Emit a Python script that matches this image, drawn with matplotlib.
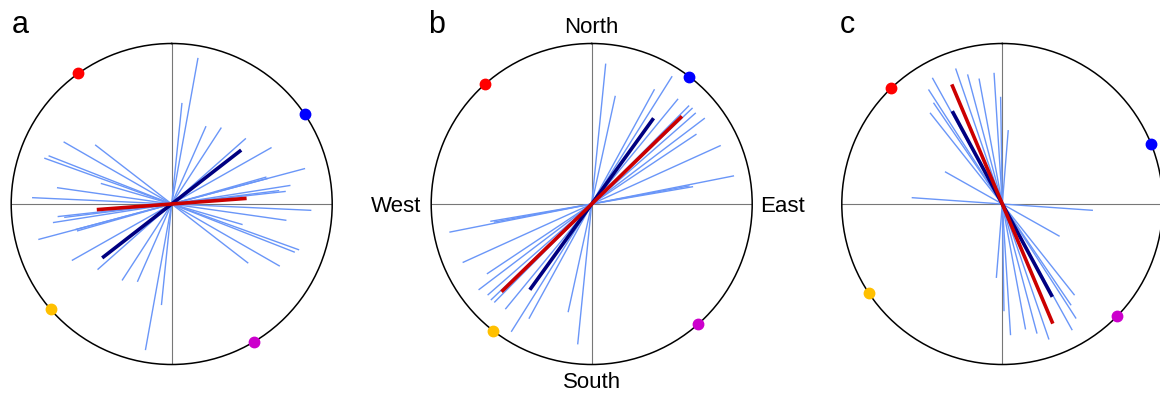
import matplotlib
matplotlib.use('Agg')
import matplotlib.pyplot as plt
import numpy as np

plt.rcParams['font.family'] = ['Liberation Sans', 'DejaVu Sans']

# ── Data: axial directions (azimuth, deg clockwise from north) and half-lengths ──
a_az  = [10.2, 5.8, 23.8, 33.0, 48.5, 60.5, 75.1, 74.1, 75.1, 81.1, 83.7, 82.9,
         92.6, 98.1, 106.2, 109.8, 111.4, 127.7, 119.9]
a_len = [0.925, 0.633, 0.530, 0.568, 0.617, 0.715, 0.860, 0.614, 0.622, 0.749, 0.715, 0.675,
         0.871, 0.722, 0.460, 0.844, 0.824, 0.603, 0.777]

b_az  = [5.7, 12.3, 28.7, 32.2, 39.4, 44.7, 46.4, 48.8, 52.8, 56.3, 65.6, 78.8, 80.3, 79.5]
b_len = [0.879, 0.690, 0.815, 0.941, 0.848, 0.863, 0.868, 0.862, 0.885, 0.785, 0.883, 0.904,
         0.641, 0.620]

c_az  = [331.0, 327.2, 341.0, 345.0, 349.5, 356.4, 359.1, 4.6, 325.8, 321.6, 299.4, 274.0]
c_len = [0.899, 0.849, 0.893, 0.836, 0.795, 0.819, 0.668, 0.462, 0.763, 0.725, 0.410, 0.566]

# mean axes: navy (first) and red (second) per panel
navy_az  = [52.2, 35.8, 331.7]
navy_len = [0.548, 0.659, 0.657]
red_az   = [85.7, 45.8, 337.1]
red_len  = [0.468, 0.784, 0.809]

# reference points on the rim: red, blue, orange, magenta
dot_colors = ['#ff0000', '#0000ff', '#ffc000', '#cc00cc']
a_dots = [324.5, 56.1, 229.0, 149.0]
b_dots = [318.3, 37.5, 217.8, 138.4]
c_dots = [316.3, 68.2, 236.2, 134.3]

panel_labels = ['a', 'b', 'c']

# ── Layout (pixels) ──────────────────────────────────────────────────────────
W, H = 1160, 394
R = 160.5
CY = 204
centers = [171.7, 591.7, 1002.3]
letter_x = [12, 428, 840]

fig = plt.figure(figsize=(W / 100, H / 100), dpi=100)


def axial(ax, az, L, **kw):
    th = np.radians(az)
    ax.plot([th + np.pi, th, th], [L, 0, L], solid_capstyle='butt', **kw)


panels = [(a_az, a_len, a_dots), (b_az, b_len, b_dots), (c_az, c_len, c_dots)]
for i, (az, ln, dots) in enumerate(panels):
    cx = centers[i]
    ax = fig.add_axes([(cx - R) / W, (H - CY - R) / H, 2 * R / W, 2 * R / H],
                      projection='polar')
    ax.set_theta_zero_location('N')
    ax.set_theta_direction(-1)
    ax.set_ylim(0, 1)
    ax.set_yticks([])
    ax.set_xticks(np.radians([0, 90, 180, 270]))
    ax.set_xticklabels([])
    ax.xaxis.grid(True, color='#777777', lw=0.8)
    ax.yaxis.grid(False)
    ax.spines['polar'].set_linewidth(1.1)
    ax.spines['polar'].set_color('black')

    for a, l in zip(az, ln):
        axial(ax, a, l, color='#6a96f8', lw=1.0, zorder=3)
    axial(ax, navy_az[i], navy_len[i], color='#000080', lw=2.6, zorder=4)
    axial(ax, red_az[i], red_len[i], color='#cc0000', lw=2.6, zorder=5)

    for d, col in zip(dots, dot_colors):
        ax.plot(np.radians(d), 1.0, 'o', color=col, ms=7.5, clip_on=False, zorder=6)

    fig.text(letter_x[i] / W, 1 - 33 / H, panel_labels[i], fontsize=22, va='baseline')

# compass names around the middle panel
cb = centers[1]
kw = dict(fontsize=16, va='baseline')
fig.text(cb / W, 1 - 33.3 / H, 'North', ha='center', **kw)
fig.text(cb / W, 1 - 388.5 / H, 'South', ha='center', **kw)
fig.text((cb - R - 9.5) / W, 1 - 212.3 / H, 'West', ha='right', **kw)
fig.text((cb + R + 8) / W, 1 - 212.3 / H, 'East', ha='left', **kw)

plt.savefig('out.png', dpi=100)
